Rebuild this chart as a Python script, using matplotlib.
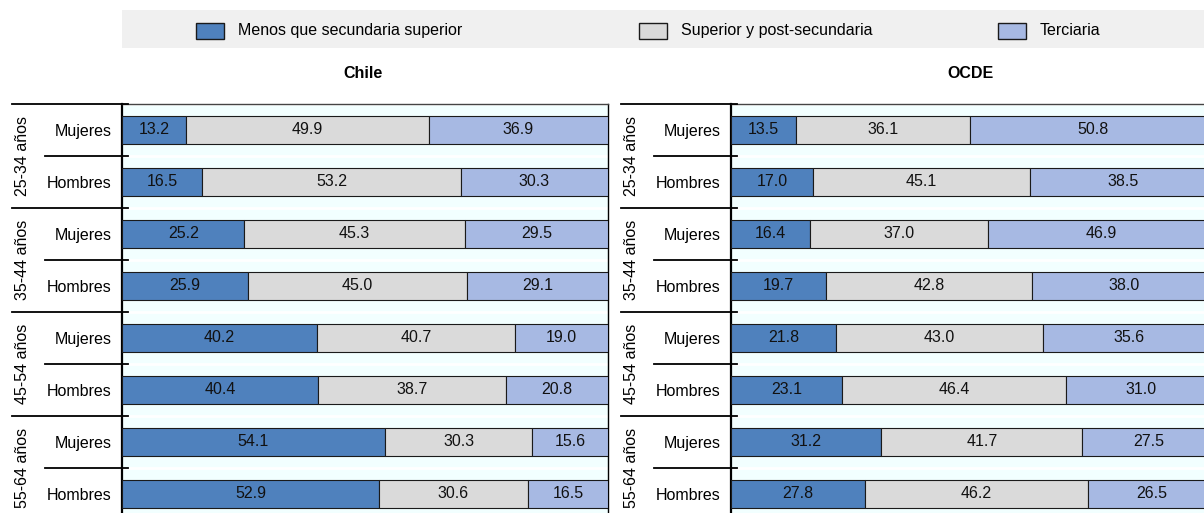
"""Nivel educativo por grupo de edad y sexo: Chile vs. OCDE (barras apiladas al 100%)."""

import matplotlib

matplotlib.use("Agg")
import matplotlib.pyplot as plt
import matplotlib.transforms as mtransforms
from matplotlib.patches import Rectangle
import numpy as np

plt.rcParams["font.family"] = ["Liberation Sans", "DejaVu Sans"]

# --- datos ------------------------------------------------------------------
sexos = ["Mujeres", "Hombres"] * 4
grupos_edad = ["25-34 años", "35-44 años", "45-54 años", "55-64 años"]
series = ["Menos que secundaria superior", "Superior y post-secundaria", "Terciaria"]

chile_menos = [13.2, 16.5, 25.2, 25.9, 40.2, 40.4, 54.1, 52.9]
chile_superior = [49.9, 53.2, 45.3, 45.0, 40.7, 38.7, 30.3, 30.6]
chile_terciaria = [36.9, 30.3, 29.5, 29.1, 19.0, 20.8, 15.6, 16.5]

ocde_menos = [13.5, 17.0, 16.4, 19.7, 21.8, 23.1, 31.2, 27.8]
ocde_superior = [36.1, 45.1, 37.0, 42.8, 43.0, 46.4, 41.7, 46.2]
ocde_terciaria = [50.8, 38.5, 46.9, 38.0, 35.6, 31.0, 27.5, 26.5]

COLORES = ["#4F81BD", "#DADADA", "#A7B9E3"]
FONDO = "#F2FFFF"
W, H = 1204, 513
FS = 11.5


def px(x):
    """Convierte píxeles a puntos (dpi=100)."""
    return x * 72 / 100


def panel(fig, rect_px, titulo, valores):
    left, width = rect_px
    ax = fig.add_axes([left / W, (H - 520) / H, width / W, 416 / H])
    ax.set_facecolor(FONDO)
    y = np.arange(len(sexos))
    acumulado = np.zeros(len(sexos))
    for serie, color in zip(valores, COLORES):
        serie = np.array(serie)
        ax.barh(y, serie, left=acumulado, height=0.54, color=color,
                edgecolor="#1a1a1a", linewidth=0.8, zorder=3)
        for yi, base, v in zip(y, acumulado, serie):
            ax.text(base + v / 2, yi, f"{v:.1f}", ha="center", va="center",
                    fontsize=FS, color="#111111", zorder=4)
        acumulado += serie

    ax.set_xlim(0, 100)
    ax.set_ylim(len(sexos) - 0.5, -0.5)
    ax.set_xticks([])
    ax.set_yticks(y)
    ax.set_yticklabels(sexos, fontsize=FS)
    ax.tick_params(axis="y", length=0, pad=px(10))
    ax.set_yticks(np.arange(len(sexos) + 1) - 0.5, minor=True)
    ax.tick_params(axis="y", which="minor", length=0)
    ax.grid(axis="y", which="minor", color="white", linewidth=2, zorder=1)

    ax.spines["left"].set_linewidth(1.6)
    ax.spines["left"].set_color("black")
    ax.spines["top"].set_color("#444444")
    ax.spines["top"].set_linewidth(1.0)
    ax.spines["right"].set_color("black")
    ax.spines["right"].set_linewidth(1.0)
    ax.spines["bottom"].set_visible(False)

    # líneas separadoras de grupos y de sexo a la izquierda del eje
    trans = mtransforms.blended_transform_factory(ax.transAxes, ax.transData)
    for i in range(len(sexos) + 1):
        inicio = -110 if i % 2 == 0 else -77
        ax.plot([inicio / width, 6 / width], [i - 0.5, i - 0.5], transform=trans,
                color="black", linewidth=1.3, clip_on=False, zorder=5)

    for g, grupo in enumerate(grupos_edad):
        ax.annotate(grupo, xy=(0, 2 * g + 0.5), xycoords=trans,
                    xytext=(px(-99), 0), textcoords="offset points",
                    rotation=90, ha="center", va="center", fontsize=FS)

    fig.text((left + width / 2 - 2) / W, 1 - 73 / H, titulo, ha="center",
             va="center", fontsize=FS, fontweight="bold")
    return ax


def leyenda(fig):
    fig.patches.append(Rectangle((122 / W, 1 - 48 / H), (W - 122) / W, 38 / H,
                                 transform=fig.transFigure, facecolor="#F0F0F0",
                                 edgecolor="none", zorder=0))
    posiciones = [196, 639, 998]
    for nombre, color, x in zip(series, COLORES, posiciones):
        fig.patches.append(Rectangle((x / W, 1 - 39 / H), 28 / W, 16 / H,
                                     transform=fig.transFigure, facecolor=color,
                                     edgecolor="#1a1a1a", linewidth=1.0, zorder=1))
        fig.text((x + 42) / W, 1 - 31 / H, nombre, ha="left", va="center",
                 fontsize=FS)


def main():
    fig = plt.figure(figsize=(W / 100, H / 100), dpi=100)
    leyenda(fig)
    panel(fig, (122, 486), "Chile", [chile_menos, chile_superior, chile_terciaria])
    panel(fig, (731, 482), "OCDE", [ocde_menos, ocde_superior, ocde_terciaria])
    fig.savefig("out.png", dpi=100)
    plt.close(fig)


if __name__ == "__main__":
    main()
